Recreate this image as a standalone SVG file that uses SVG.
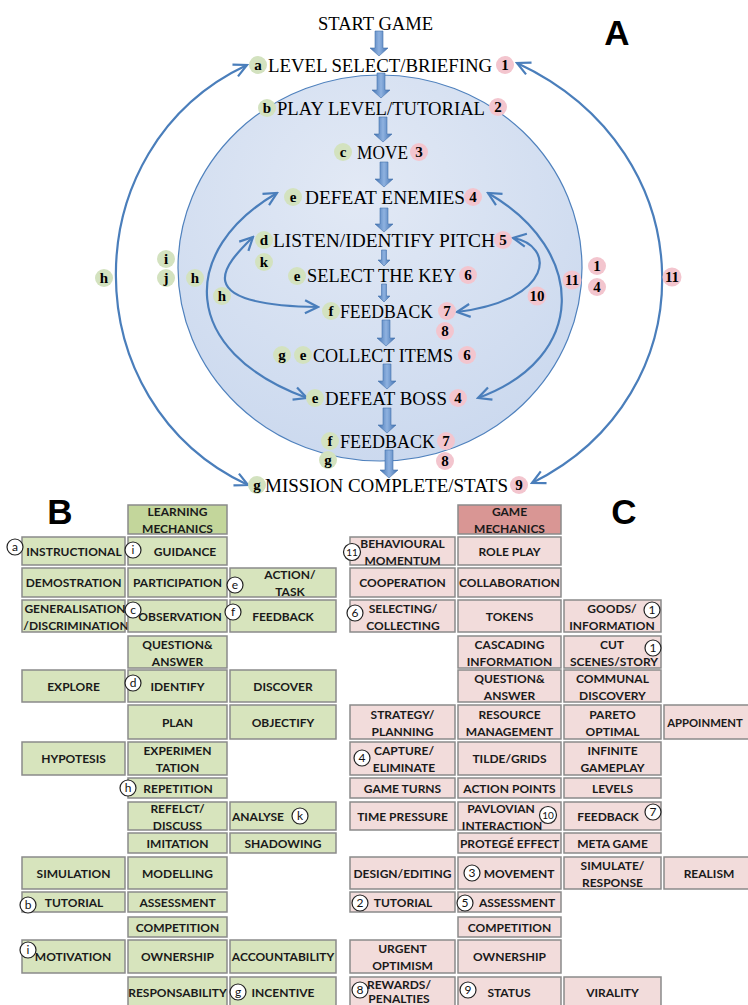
<svg xmlns="http://www.w3.org/2000/svg" width="748" height="1005" viewBox="0 0 748 1005">
<defs>
<style>
.flow{font-family:"Liberation Serif",serif;font-size:19.5px;fill:#000}
.lbl{font-family:"Liberation Serif",serif;font-weight:bold;font-size:15px;text-anchor:middle;fill:#000}
.gcir{fill:#d3e2bf}
.pcir{fill:#f3c5ce}
.big{font-family:"Liberation Sans",Arial,sans-serif;font-weight:bold;font-size:35px;text-anchor:middle;fill:#000}
.gc{fill:#d7e4bd;stroke:#8a8a8a;stroke-width:1.5}
.gh{fill:#c3d69b;stroke:#8a8a8a;stroke-width:1.5}
.pc{fill:#f2dcdb;stroke:#8a8a8a;stroke-width:1.5}
.ph{fill:#d99694;stroke:#8a8a8a;stroke-width:1.5}
.t{font-family:Lato,"Liberation Sans",sans-serif;font-weight:bold;font-size:12px;text-anchor:middle;fill:#1a1a1a}
.oc{fill:#fff;stroke:#222;stroke-width:1.2}
.ot{font-family:Lato,"Liberation Sans",sans-serif;font-size:12px;text-anchor:middle;fill:#111}
.arc{fill:none;stroke:#4a7ebb;stroke-width:2.2}
.blk{fill:url(#ba);stroke:#4572ad;stroke-width:0.6}
</style>
<linearGradient id="ba" x1="0" y1="0" x2="1" y2="0">
<stop offset="0" stop-color="#3f70b0"/><stop offset="0.5" stop-color="#8fb2e0"/><stop offset="1" stop-color="#3f70b0"/>
</linearGradient>
<radialGradient id="eg" cx="0.45" cy="0.3" r="0.75">
<stop offset="0" stop-color="#e2e9f5"/><stop offset="1" stop-color="#cad8ee"/>
</radialGradient>
<marker id="ah" viewBox="0 0 16 16" refX="14" refY="8" markerWidth="16" markerHeight="16" markerUnits="userSpaceOnUse" orient="auto-start-reverse">
<path d="M1,1.5 L14,8 L1,14.5" fill="none" stroke="#4a7ebb" stroke-width="2.2"/>
</marker>
</defs>
<rect x="0" y="0" width="748" height="1005" fill="#fff"/>

<ellipse id="loop-circle" cx="380" cy="268" rx="202" ry="193" fill="url(#eg)" stroke="#4f81bd" stroke-width="1.2"/>

<text class="big" x="617" y="45">A</text>
<text class="big" x="60" y="524">B</text>
<text class="big" x="624" y="524">C</text>

<g id="connectors">
<path class="arc" d="M247,65 C72,147 72,403 248,485" marker-start="url(#ah)" marker-end="url(#ah)"/>
<path class="arc" d="M517,63 C708,152 708,396 532,483" marker-start="url(#ah)" marker-end="url(#ah)"/>
<path class="arc" d="M277,193 C179,250 179,351 307,398" marker-start="url(#ah)" marker-end="url(#ah)"/>
<path class="arc" d="M488,193 C588,251 588,358 478,398" marker-start="url(#ah)" marker-end="url(#ah)"/>
<path class="arc" d="M253,237 C228,262 182,305 318,307" marker-start="url(#ah)" marker-end="url(#ah)"/>
<path class="arc" d="M513,238 C555,245 555,300 457,312" marker-start="url(#ah)" marker-end="url(#ah)"/>
<path class="blk" d="M375,31 L383,31 L383,48 L388,48 L379,56 L370,48 L375,48 Z"/>
<path class="blk" d="M377,73 L385,73 L385,90 L390,90 L381,98 L372,90 L377,90 Z"/>
<path class="blk" d="M379,117 L387,117 L387,134 L392,134 L383,142 L374,134 L379,134 Z"/>
<path class="blk" d="M380,162 L388,162 L388,179 L393,179 L384,187 L375,179 L380,179 Z"/>
<path class="blk" d="M380,208 L388,208 L388,224 L393,224 L384,232 L375,224 L380,224 Z"/>
<path class="blk" d="M381.5,250 L386.5,250 L386.5,260 L390,260 L384,266 L378,260 L381.5,260 Z"/>
<path class="blk" d="M381.5,284 L386.5,284 L386.5,296 L390,296 L384,302 L378,296 L381.5,296 Z"/>
<path class="blk" d="M382,320 L390,320 L390,338 L395,338 L386,346 L377,338 L382,338 Z"/>
<path class="blk" d="M383,364 L391,364 L391,381 L396,381 L387,389 L378,381 L383,381 Z"/>
<path class="blk" d="M383,408 L391,408 L391,425 L396,425 L387,433 L378,425 L383,425 Z"/>
<path class="blk" d="M385,450 L393,450 L393,470 L398,470 L389,478 L380,470 L385,470 Z"/>
</g>

<g id="n-start"><text class="flow" x="318" y="30" textLength="115" lengthAdjust="spacingAndGlyphs">START GAME</text></g>
<g id="n-level-select">
<circle class="gcir" cx="258" cy="65" r="9"/><text class="lbl" x="258" y="70">a</text>
<text class="flow" x="268" y="72" textLength="224" lengthAdjust="spacingAndGlyphs">LEVEL SELECT/BRIEFING</text>
<circle class="pcir" cx="505" cy="65" r="9"/><text class="lbl" x="505" y="70">1</text>
</g>
<g id="n-play-level">
<circle class="gcir" cx="267" cy="108" r="9"/><text class="lbl" x="267" y="113">b</text>
<text class="flow" x="277" y="115" textLength="208" lengthAdjust="spacingAndGlyphs">PLAY LEVEL/TUTORIAL</text>
<circle class="pcir" cx="498" cy="107" r="9"/><text class="lbl" x="498" y="112">2</text>
</g>
<g id="n-move">
<circle class="gcir" cx="343" cy="152" r="9"/><text class="lbl" x="343" y="157">c</text>
<text class="flow" x="357" y="159" textLength="51" lengthAdjust="spacingAndGlyphs">MOVE</text>
<circle class="pcir" cx="419" cy="152" r="9"/><text class="lbl" x="419" y="157">3</text>
</g>
<g id="n-defeat-enemies">
<circle class="gcir" cx="293" cy="197" r="9"/><text class="lbl" x="293" y="202">e</text>
<text class="flow" x="305" y="204" textLength="160" lengthAdjust="spacingAndGlyphs">DEFEAT ENEMIES</text>
<circle class="pcir" cx="473" cy="197" r="9"/><text class="lbl" x="473" y="202">4</text>
</g>
<g id="n-listen">
<circle class="gcir" cx="264" cy="240" r="9"/><text class="lbl" x="264" y="245">d</text>
<circle class="gcir" cx="264" cy="262" r="9"/><text class="lbl" x="264" y="267">k</text>
<text class="flow" x="273" y="247" textLength="222" lengthAdjust="spacingAndGlyphs">LISTEN/IDENTIFY PITCH</text>
<circle class="pcir" cx="503" cy="240" r="9"/><text class="lbl" x="503" y="245">5</text>
</g>
<g id="n-select-key">
<circle class="gcir" cx="297" cy="276" r="9"/><text class="lbl" x="297" y="281">e</text>
<text class="flow" x="307" y="282" textLength="149" lengthAdjust="spacingAndGlyphs">SELECT THE KEY</text>
<circle class="pcir" cx="468" cy="275" r="9"/><text class="lbl" x="468" y="280">6</text>
</g>
<g id="n-feedback-1">
<circle class="gcir" cx="331" cy="311" r="9"/><text class="lbl" x="331" y="316">f</text>
<text class="flow" x="340" y="318" textLength="93" lengthAdjust="spacingAndGlyphs">FEEDBACK</text>
<circle class="pcir" cx="447" cy="311" r="9"/><text class="lbl" x="447" y="316">7</text>
<circle class="pcir" cx="445" cy="331" r="9"/><text class="lbl" x="445" y="336">8</text>
</g>
<g id="n-collect">
<circle class="gcir" cx="282" cy="355" r="9"/><text class="lbl" x="282" y="360">g</text>
<circle class="gcir" cx="303" cy="355" r="9"/><text class="lbl" x="303" y="360">e</text>
<text class="flow" x="313" y="362" textLength="140" lengthAdjust="spacingAndGlyphs">COLLECT ITEMS</text>
<circle class="pcir" cx="467" cy="355" r="9"/><text class="lbl" x="467" y="360">6</text>
</g>
<g id="n-defeat-boss">
<circle class="gcir" cx="315" cy="398" r="9"/><text class="lbl" x="315" y="403">e</text>
<text class="flow" x="325" y="405" textLength="122" lengthAdjust="spacingAndGlyphs">DEFEAT BOSS</text>
<circle class="pcir" cx="458" cy="398" r="9"/><text class="lbl" x="458" y="403">4</text>
</g>
<g id="n-feedback-2">
<circle class="gcir" cx="330" cy="441" r="9"/><text class="lbl" x="330" y="446">f</text>
<circle class="gcir" cx="328" cy="460" r="9"/><text class="lbl" x="328" y="465">g</text>
<text class="flow" x="340" y="448" textLength="95" lengthAdjust="spacingAndGlyphs">FEEDBACK</text>
<circle class="pcir" cx="446" cy="441" r="9"/><text class="lbl" x="446" y="446">7</text>
<circle class="pcir" cx="445" cy="461" r="9"/><text class="lbl" x="445" y="466">8</text>
</g>
<g id="n-mission">
<circle class="gcir" cx="257" cy="485" r="9"/><text class="lbl" x="257" y="490">g</text>
<text class="flow" x="265" y="492" textLength="243" lengthAdjust="spacingAndGlyphs">MISSION COMPLETE/STATS</text>
<circle class="pcir" cx="519" cy="485" r="9"/><text class="lbl" x="519" y="490">9</text>
</g>
<g id="n-side-labels">
<circle class="gcir" cx="104" cy="278" r="9"/><text class="lbl" x="104" y="283">h</text>
<circle class="gcir" cx="166" cy="259" r="9"/><text class="lbl" x="166" y="264">i</text>
<circle class="gcir" cx="166" cy="278" r="9"/><text class="lbl" x="166" y="283">j</text>
<circle class="gcir" cx="195" cy="278" r="9"/><text class="lbl" x="195" y="283">h</text>
<circle class="gcir" cx="222" cy="296" r="9"/><text class="lbl" x="222" y="301">h</text>
<circle class="pcir" cx="537" cy="296" r="9.5"/><text class="lbl" x="537" y="301">10</text>
<circle class="pcir" cx="572" cy="280" r="9.5"/><text class="lbl" x="572" y="285">11</text>
<circle class="pcir" cx="597" cy="266" r="9"/><text class="lbl" x="597" y="271">1</text>
<circle class="pcir" cx="597" cy="287" r="9"/><text class="lbl" x="597" y="292">4</text>
<circle class="pcir" cx="672" cy="277" r="9.5"/><text class="lbl" x="672" y="282">11</text>
</g>

<g id="table-b">
<g id="b-h"><rect class="gh" x="128" y="505" width="99" height="29"/><text class="t" x="177.5" y="516">LEARNING</text><text class="t" x="177.5" y="533">MECHANICS</text></g>
<g id="b-r1c1"><rect class="gc" x="22" y="537" width="103" height="28"/><text class="t" x="74" y="555.5">INSTRUCTIONAL</text></g>
<g id="b-r1c2"><rect class="gc" x="128" y="537" width="99" height="28"/><text class="t" x="185" y="555.5">GUIDANCE</text></g>
<g id="b-r2c1"><rect class="gc" x="22" y="568" width="103" height="29"/><text class="t" x="73.5" y="587">DEMOSTRATION</text></g>
<g id="b-r2c2"><rect class="gc" x="128" y="568" width="99" height="29"/><text class="t" x="177.5" y="587">PARTICIPATION</text></g>
<g id="b-r2c3"><rect class="gc" x="230" y="568" width="106" height="29"/><text class="t" x="290" y="579">ACTION/</text><text class="t" x="290" y="596">TASK</text></g>
<g id="b-r3c1"><rect class="gc" x="22" y="600" width="103" height="32"/><text class="t" x="75" y="612.5">GENERALISATION</text><text class="t" x="76" y="629.5">/DISCRIMINATION</text></g>
<g id="b-r3c2"><rect class="gc" x="128" y="600" width="99" height="32"/><text class="t" x="180" y="620.5">OBSERVATION</text></g>
<g id="b-r3c3"><rect class="gc" x="230" y="600" width="106" height="32"/><text class="t" x="283" y="620.5">FEEDBACK</text></g>
<g id="b-r4c2"><rect class="gc" x="128" y="636" width="99" height="32"/><text class="t" x="177.5" y="648.5">QUESTION&amp;</text><text class="t" x="177.5" y="665.5">ANSWER</text></g>
<g id="b-r5c1"><rect class="gc" x="22" y="670" width="103" height="32"/><text class="t" x="73.5" y="690.5">EXPLORE</text></g>
<g id="b-r5c2"><rect class="gc" x="128" y="670" width="99" height="32"/><text class="t" x="177.5" y="690.5">IDENTIFY</text></g>
<g id="b-r5c3"><rect class="gc" x="230" y="670" width="106" height="32"/><text class="t" x="283" y="690.5">DISCOVER</text></g>
<g id="b-r6c2"><rect class="gc" x="128" y="705" width="99" height="34"/><text class="t" x="177.5" y="726.5">PLAN</text></g>
<g id="b-r6c3"><rect class="gc" x="230" y="705" width="106" height="34"/><text class="t" x="283" y="726.5">OBJECTIFY</text></g>
<g id="b-r7c1"><rect class="gc" x="22" y="742" width="103" height="33"/><text class="t" x="73.5" y="763">HYPOTESIS</text></g>
<g id="b-r7c2"><rect class="gc" x="128" y="742" width="99" height="33"/><text class="t" x="177.5" y="755">EXPERIMEN</text><text class="t" x="177.5" y="772">TATION</text></g>
<g id="b-r8c2"><rect class="gc" x="128" y="778" width="99" height="20"/><text class="t" x="178" y="792.5">REPETITION</text></g>
<g id="b-r9c2"><rect class="gc" x="128" y="802" width="99" height="28"/><text class="t" x="177.5" y="812.5">REFELCT/</text><text class="t" x="177.5" y="829.5">DISCUSS</text></g>
<g id="b-r9c3"><rect class="gc" x="230" y="802" width="106" height="28"/><text class="t" x="258" y="820.5">ANALYSE</text></g>
<g id="b-r10c2"><rect class="gc" x="128" y="833" width="99" height="20"/><text class="t" x="177.5" y="847.5">IMITATION</text></g>
<g id="b-r10c3"><rect class="gc" x="230" y="833" width="106" height="20"/><text class="t" x="283" y="847.5">SHADOWING</text></g>
<g id="b-r11c1"><rect class="gc" x="22" y="857" width="103" height="32"/><text class="t" x="73.5" y="877.5">SIMULATION</text></g>
<g id="b-r11c2"><rect class="gc" x="128" y="857" width="99" height="32"/><text class="t" x="177.5" y="877.5">MODELLING</text></g>
<g id="b-r12c1"><rect class="gc" x="22" y="892" width="103" height="20"/><text class="t" x="74" y="906.5">TUTORIAL</text></g>
<g id="b-r12c2"><rect class="gc" x="128" y="892" width="99" height="20"/><text class="t" x="177.5" y="906.5">ASSESSMENT</text></g>
<g id="b-r13c2"><rect class="gc" x="128" y="917" width="99" height="20"/><text class="t" x="177.5" y="931.5">COMPETITION</text></g>
<g id="b-r14c1"><rect class="gc" x="22" y="940" width="103" height="33"/><text class="t" x="73" y="961">MOTIVATION</text></g>
<g id="b-r14c2"><rect class="gc" x="128" y="940" width="99" height="33"/><text class="t" x="177.5" y="961">OWNERSHIP</text></g>
<g id="b-r14c3"><rect class="gc" x="230" y="940" width="106" height="33"/><text class="t" x="283" y="961">ACCOUNTABILITY</text></g>
<g id="b-r15c2"><rect class="gc" x="128" y="977" width="99" height="30"/><text class="t" x="177.5" y="996.5">RESPONSABILITY</text></g>
<g id="b-r15c3"><rect class="gc" x="230" y="977" width="106" height="30"/><text class="t" x="283" y="996.5">INCENTIVE</text></g>
<g id="b-marks">
<circle class="oc" cx="15" cy="547" r="8"/><text class="ot" x="15" y="551">a</text>
<circle class="oc" cx="133" cy="550" r="8"/><text class="ot" x="133" y="554">i</text>
<circle class="oc" cx="235" cy="585" r="8"/><text class="ot" x="235" y="589">e</text>
<circle class="oc" cx="133" cy="610" r="8"/><text class="ot" x="133" y="614">c</text>
<circle class="oc" cx="233" cy="612" r="8"/><text class="ot" x="233" y="616">f</text>
<circle class="oc" cx="133" cy="683" r="8"/><text class="ot" x="133" y="687">d</text>
<circle class="oc" cx="128" cy="788" r="8"/><text class="ot" x="128" y="792">h</text>
<circle class="oc" cx="300" cy="816" r="8"/><text class="ot" x="300" y="820">k</text>
<circle class="oc" cx="28" cy="905" r="8"/><text class="ot" x="28" y="909">b</text>
<circle class="oc" cx="28" cy="950" r="8"/><text class="ot" x="28" y="954">i</text>
<circle class="oc" cx="238" cy="992" r="8"/><text class="ot" x="238" y="996">g</text>
</g>
</g>

<g id="table-c">
<g id="c-h"><rect class="ph" x="458" y="505" width="103" height="29"/><text class="t" x="509.5" y="516">GAME</text><text class="t" x="509.5" y="533">MECHANICS</text></g>
<g id="c-r1c1"><rect class="pc" x="350" y="537" width="105" height="28"/><text class="t" x="402.5" y="547.5">BEHAVIOURAL</text><text class="t" x="402.5" y="564.5">MOMENTUM</text></g>
<g id="c-r1c2"><rect class="pc" x="458" y="537" width="103" height="28"/><text class="t" x="509.5" y="555.5">ROLE PLAY</text></g>
<g id="c-r2c1"><rect class="pc" x="350" y="568" width="105" height="29"/><text class="t" x="402.5" y="587">COOPERATION</text></g>
<g id="c-r2c2"><rect class="pc" x="458" y="568" width="103" height="29"/><text class="t" x="509.5" y="587">COLLABORATION</text></g>
<g id="c-r3c1"><rect class="pc" x="350" y="600" width="105" height="32"/><text class="t" x="403" y="612.5">SELECTING/</text><text class="t" x="403" y="629.5">COLLECTING</text></g>
<g id="c-r3c2"><rect class="pc" x="458" y="600" width="103" height="32"/><text class="t" x="509.5" y="620.5">TOKENS</text></g>
<g id="c-r3c3"><rect class="pc" x="564" y="600" width="97" height="32"/><text class="t" x="612" y="612.5">GOODS/</text><text class="t" x="612" y="629.5">INFORMATION</text></g>
<g id="c-r4c2"><rect class="pc" x="458" y="636" width="103" height="32"/><text class="t" x="509.5" y="648.5">CASCADING</text><text class="t" x="509.5" y="665.5">INFORMATION</text></g>
<g id="c-r4c3"><rect class="pc" x="564" y="636" width="97" height="32"/><text class="t" x="612" y="648.5">CUT</text><text class="t" x="614" y="665.5">SCENES/STORY</text></g>
<g id="c-r5c2"><rect class="pc" x="458" y="670" width="103" height="32"/><text class="t" x="509.5" y="682.5">QUESTION&amp;</text><text class="t" x="509.5" y="699.5">ANSWER</text></g>
<g id="c-r5c3"><rect class="pc" x="564" y="670" width="97" height="32"/><text class="t" x="612.5" y="682.5">COMMUNAL</text><text class="t" x="612.5" y="699.5">DISCOVERY</text></g>
<g id="c-r6c1"><rect class="pc" x="350" y="705" width="105" height="34"/><text class="t" x="402.5" y="718.5">STRATEGY/</text><text class="t" x="402.5" y="735.5">PLANNING</text></g>
<g id="c-r6c2"><rect class="pc" x="458" y="705" width="103" height="34"/><text class="t" x="509.5" y="718.5">RESOURCE</text><text class="t" x="509.5" y="735.5">MANAGEMENT</text></g>
<g id="c-r6c3"><rect class="pc" x="564" y="705" width="97" height="34"/><text class="t" x="612.5" y="718.5">PARETO</text><text class="t" x="612.5" y="735.5">OPTIMAL</text></g>
<g id="c-r6c4"><rect class="pc" x="664" y="705" width="90" height="34"/><text class="t" x="705" y="726.5" style="font-size:11.3px">APPOINMENT</text></g>
<g id="c-r7c1"><rect class="pc" x="350" y="742" width="105" height="33"/><text class="t" x="404" y="755">CAPTURE/</text><text class="t" x="404" y="772">ELIMINATE</text></g>
<g id="c-r7c2"><rect class="pc" x="458" y="742" width="103" height="33"/><text class="t" x="509.5" y="763">TILDE/GRIDS</text></g>
<g id="c-r7c3"><rect class="pc" x="564" y="742" width="97" height="33"/><text class="t" x="612.5" y="755">INFINITE</text><text class="t" x="612.5" y="772">GAMEPLAY</text></g>
<g id="c-r8c1"><rect class="pc" x="350" y="778" width="105" height="20"/><text class="t" x="402.5" y="792.5">GAME TURNS</text></g>
<g id="c-r8c2"><rect class="pc" x="458" y="778" width="103" height="20"/><text class="t" x="509.5" y="792.5">ACTION POINTS</text></g>
<g id="c-r8c3"><rect class="pc" x="564" y="778" width="97" height="20"/><text class="t" x="612.5" y="792.5">LEVELS</text></g>
<g id="c-r9c1"><rect class="pc" x="350" y="802" width="105" height="28"/><text class="t" x="402.5" y="820.5">TIME PRESSURE</text></g>
<g id="c-r9c2"><rect class="pc" x="458" y="802" width="103" height="28"/><text class="t" x="501" y="812.5">PAVLOVIAN</text><text class="t" x="502" y="829.5">INTERACTION</text></g>
<g id="c-r9c3"><rect class="pc" x="564" y="802" width="97" height="28"/><text class="t" x="608" y="820.5">FEEDBACK</text></g>
<g id="c-r10c2"><rect class="pc" x="458" y="833" width="103" height="20"/><text class="t" x="509.5" y="847.5">PROTEGÉ EFFECT</text></g>
<g id="c-r10c3"><rect class="pc" x="564" y="833" width="97" height="20"/><text class="t" x="612.5" y="847.5">META GAME</text></g>
<g id="c-r11c1"><rect class="pc" x="350" y="857" width="105" height="32"/><text class="t" x="402.5" y="877.5">DESIGN/EDITING</text></g>
<g id="c-r11c2"><rect class="pc" x="458" y="857" width="103" height="32"/><text class="t" x="519" y="877.5">MOVEMENT</text></g>
<g id="c-r11c3"><rect class="pc" x="564" y="857" width="97" height="32"/><text class="t" x="612.5" y="869.5">SIMULATE/</text><text class="t" x="612.5" y="886.5">RESPONSE</text></g>
<g id="c-r11c4"><rect class="pc" x="664" y="857" width="90" height="32"/><text class="t" x="709" y="877.5">REALISM</text></g>
<g id="c-r12c1"><rect class="pc" x="350" y="892" width="105" height="20"/><text class="t" x="403" y="906.5">TUTORIAL</text></g>
<g id="c-r12c2"><rect class="pc" x="458" y="892" width="103" height="20"/><text class="t" x="517" y="906.5">ASSESSMENT</text></g>
<g id="c-r13c2"><rect class="pc" x="458" y="917" width="103" height="20"/><text class="t" x="509.5" y="931.5">COMPETITION</text></g>
<g id="c-r14c1"><rect class="pc" x="350" y="940" width="105" height="33"/><text class="t" x="402.5" y="953">URGENT</text><text class="t" x="402.5" y="970">OPTIMISM</text></g>
<g id="c-r14c2"><rect class="pc" x="458" y="940" width="103" height="33"/><text class="t" x="509.5" y="961">OWNERSHIP</text></g>
<g id="c-r15c1"><rect class="pc" x="350" y="977" width="105" height="30"/><text class="t" x="399" y="988.5">REWARDS/</text><text class="t" x="399" y="1003">PENALTIES</text></g>
<g id="c-r15c2"><rect class="pc" x="458" y="977" width="103" height="30"/><text class="t" x="509" y="996.5">STATUS</text></g>
<g id="c-r15c3"><rect class="pc" x="564" y="977" width="97" height="30"/><text class="t" x="612.5" y="996.5">VIRALITY</text></g>
<g id="c-marks">
<circle class="oc" cx="352" cy="552" r="8.5"/><text class="ot" x="352" y="556" style="font-size:10px">11</text>
<circle class="oc" cx="355" cy="613" r="8"/><text class="ot" x="355" y="617">6</text>
<circle class="oc" cx="652" cy="610" r="8"/><text class="ot" x="652" y="614">1</text>
<circle class="oc" cx="653" cy="648" r="8"/><text class="ot" x="653" y="652">1</text>
<circle class="oc" cx="362" cy="758" r="8"/><text class="ot" x="362" y="762">4</text>
<circle class="oc" cx="548" cy="815" r="8.5"/><text class="ot" x="548" y="819" style="font-size:10px">10</text>
<circle class="oc" cx="653" cy="812" r="8"/><text class="ot" x="653" y="816">7</text>
<circle class="oc" cx="472" cy="873" r="8"/><text class="ot" x="472" y="877">3</text>
<circle class="oc" cx="360" cy="903" r="8"/><text class="ot" x="360" y="907">2</text>
<circle class="oc" cx="465" cy="903" r="8"/><text class="ot" x="465" y="907">5</text>
<circle class="oc" cx="360" cy="990" r="8"/><text class="ot" x="360" y="994">8</text>
<circle class="oc" cx="468" cy="990" r="8"/><text class="ot" x="468" y="994">9</text>
</g>
</g>
</svg>
